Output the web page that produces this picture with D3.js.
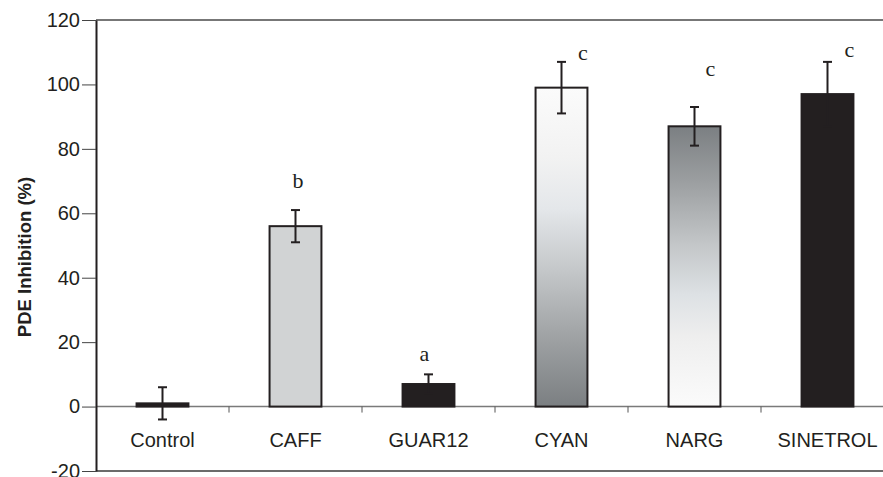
<!DOCTYPE html>
<html>
<head>
<meta charset="utf-8">
<script src="https://cdn.jsdelivr.net/npm/d3@7/dist/d3.min.js"></script>
<style>
  html, body { margin: 0; padding: 0; background: #fff; }
  svg { display: block; }
</style>
</head>
<body>
<svg id="chart" width="883" height="477"></svg>
<script>
// ---- data ----
const categories = ["Control", "CAFF", "GUAR12", "CYAN", "NARG", "SINETROL"];
const values = [1, 56, 7, 99, 87, 97];
const errors = [5, 5, 3, 8, 6, 10];
const sigLetters = ["", "b", "a", "c", "c", "c"];
const sigLetterY = [null, 68, 14, 107.5, 102.5, 108.5];
const yTicks = [-20, 0, 20, 40, 60, 80, 100, 120];
const yLabel = "PDE Inhibition (%)";

// ---- layout ----
const W = 883, H = 477;
const dark = "#231f20";
const svg = d3.select("#chart");
const defs = svg.append("defs");

const y = d3.scaleLinear().domain([-20, 120]).range([471, 20]);
const x = d3.scaleBand().domain(categories).range([96, 894]).padding(0);
const barW = x.bandwidth() * 0.39;

// gradients
function grad(id, stops) {
  const g = defs.append("linearGradient").attr("id", id)
    .attr("x1", 0).attr("y1", 0).attr("x2", 0).attr("y2", 1);
  stops.forEach(s => g.append("stop").attr("offset", s[0]).attr("stop-color", s[1]));
}
grad("gCyan", [[0, "#fbfbfb"], [0.22, "#f2f2f2"], [0.38, "#e4e7ea"], [0.58, "#c3c6c8"], [0.8, "#9c9fa1"], [1, "#7b7f82"]]);
grad("gNarg", [[0, "#7b7f82"], [0.2, "#9c9fa1"], [0.42, "#c3c6c8"], [0.6, "#dde1e4"], [0.75, "#eeeeee"], [1, "#fbfbfb"]]);

const fills = {
  "Control": dark,
  "CAFF": "#d1d3d4",
  "GUAR12": dark,
  "CYAN": "url(#gCyan)",
  "NARG": "url(#gNarg)",
  "SINETROL": dark
};

// frame lines (top and bottom), extending to the right edge
svg.append("line").attr("x1", 96).attr("x2", W).attr("y1", y(120)).attr("y2", y(120))
  .attr("stroke", "#4a4a4a").attr("stroke-width", 1.5);
svg.append("line").attr("x1", 96).attr("x2", W).attr("y1", y(-20)).attr("y2", y(-20))
  .attr("stroke", "#3a3a3a").attr("stroke-width", 1.5);

// zero line
svg.append("line").attr("x1", 96).attr("x2", W).attr("y1", y(0)).attr("y2", y(0))
  .attr("stroke", "#7a7a7a").attr("stroke-width", 1.5);

// category boundary ticks
svg.append("g").selectAll("line").data(categories.slice(1)).join("line")
  .attr("x1", d => x(d)).attr("x2", d => x(d))
  .attr("y1", y(0)).attr("y2", y(0) + 6)
  .attr("stroke", "#555").attr("stroke-width", 1);

// bars
const data = categories.map((c, i) => ({ c, v: values[i], e: errors[i], s: sigLetters[i], sy: sigLetterY[i], i }));
svg.append("g").selectAll("rect").data(data).join("rect")
  .attr("x", d => x(d.c) + x.bandwidth() / 2 - barW / 2)
  .attr("y", d => y(Math.max(d.v, 0)))
  .attr("width", barW)
  .attr("height", d => Math.abs(y(0) - y(d.v)))
  .attr("fill", d => fills[d.c])
  .attr("stroke", dark).attr("stroke-width", 2);

// error bars
const eg = svg.append("g").attr("stroke", dark).attr("stroke-width", 2);
data.forEach(d => {
  const cx = x(d.c) + x.bandwidth() / 2;
  eg.append("line").attr("x1", cx).attr("x2", cx).attr("y1", y(d.v - d.e)).attr("y2", y(d.v + d.e));
  eg.append("line").attr("x1", cx - 4.5).attr("x2", cx + 4.5).attr("y1", y(d.v + d.e)).attr("y2", y(d.v + d.e));
  eg.append("line").attr("x1", cx - 4.5).attr("x2", cx + 4.5).attr("y1", y(d.v - d.e)).attr("y2", y(d.v - d.e));
});

// significance letters
const letterDx = [0, 2.5, -4, 21.5, 16, 22];
svg.append("g").selectAll("text").data(data.filter(d => d.s)).join("text")
  .attr("x", d => x(d.c) + x.bandwidth() / 2 + letterDx[d.i])
  .attr("y", d => y(d.sy))
  .attr("text-anchor", "middle")
  .attr("font-family", "'Liberation Serif', 'Times New Roman', serif")
  .attr("font-size", 22)
  .attr("fill", dark)
  .text(d => d.s);

// y axis
const yAxis = svg.append("g").attr("transform", "translate(96,0)")
  .call(d3.axisLeft(y).tickValues(yTicks).tickFormat(d => String(d))
    .tickSize(14).tickPadding(2).tickSizeOuter(0));
yAxis.select(".domain").attr("stroke", dark).attr("stroke-width", 2);
yAxis.selectAll(".tick line").attr("stroke", "#444").attr("stroke-width", 1);
yAxis.selectAll(".tick text")
  .attr("font-family", "'Liberation Sans', Arial, sans-serif")
  .attr("font-size", 20).attr("fill", dark);

// x category labels
svg.append("g").selectAll("text").data(categories).join("text")
  .attr("x", d => x(d) + x.bandwidth() / 2)
  .attr("y", y(0) + 40)
  .attr("text-anchor", "middle")
  .attr("font-family", "'Liberation Sans', Arial, sans-serif")
  .attr("font-size", 20).attr("fill", dark)
  .text(d => d);

// y axis title
svg.append("text")
  .attr("transform", "translate(31,257) rotate(-90)")
  .attr("text-anchor", "middle")
  .attr("font-family", "'Liberation Sans', Arial, sans-serif")
  .attr("font-weight", "bold")
  .attr("font-size", 18.5).attr("fill", dark)
  .text(yLabel);
</script>
</body>
</html>
